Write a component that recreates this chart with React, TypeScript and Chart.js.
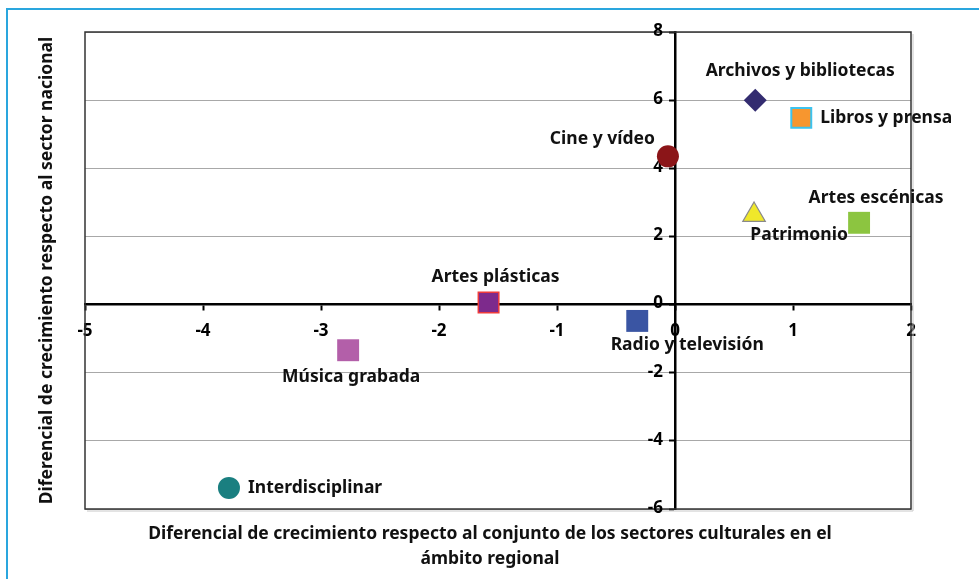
import React, { useEffect, useRef } from "react";
import { Chart, registerables } from "chart.js";

Chart.register(...registerables);

// ---- data ----
const categories = [
  "Archivos y bibliotecas",
  "Libros y prensa",
  "Cine y vídeo",
  "Patrimonio",
  "Artes escénicas",
  "Artes plásticas",
  "Radio y televisión",
  "Música grabada",
  "Interdisciplinar",
];
const xValues = [0.68, 1.07, -0.06, 0.67, 1.56, -1.58, -0.32, -2.77, -3.78];
const yValues = [6.0, 5.48, 4.35, 2.63, 2.4, 0.06, -0.48, -1.34, -5.38];
const xTickValues = [-5, -4, -3, -2, -1, 0, 1, 2];
const yTickValues = [-6, -4, -2, 0, 2, 4, 6, 8];
const xAxisTitle = [
  "Diferencial de crecimiento respecto al conjunto de los sectores culturales en el",
  "ámbito regional",
];
const yAxisTitle = "Diferencial de crecimiento respecto al sector nacional";

// ---- styles ----
const markerStyles = [
  { shape: "rectRot", r: 11.5, fill: "#332c70", stroke: "#332c70", bw: 0 },
  { shape: "rect", r: 14.1, fill: "#f7962f", stroke: "#3cc3ef", bw: 2 },
  { shape: "circle", r: 11, fill: "#8b1518", stroke: "#8b1518", bw: 0 },
  { shape: "triangle", r: 13, fill: "#f0e82a", stroke: "#8a8a8a", bw: 1.2 },
  { shape: "rect", r: 15.5, fill: "#8cc540", stroke: "#8cc540", bw: 0 },
  { shape: "rect", r: 14.5, fill: "#7d2a8c", stroke: "#ee3b3b", bw: 1.5 },
  { shape: "rect", r: 15.5, fill: "#3a55a3", stroke: "#3a55a3", bw: 0 },
  { shape: "rect", r: 15.5, fill: "#b35fa9", stroke: "#b35fa9", bw: 0 },
  { shape: "circle", r: 11, fill: "#1a7f80", stroke: "#1a7f80", bw: 0 },
];
const labelPlacement = [
  { dx: 45, dy: -29, align: "center" },
  { dx: 19, dy: 0, align: "left" },
  { dx: -13, dy: -17, align: "right" },
  { dx: 45, dy: 20, align: "center" },
  { dx: 17, dy: -25, align: "center" },
  { dx: 7, dy: -26, align: "center" },
  { dx: 50, dy: 24, align: "center" },
  { dx: 3, dy: 27, align: "center" },
  { dx: 19, dy: 0, align: "left" },
];
const FONT = "'Noto Sans', 'DejaVu Sans', sans-serif";
const TEXT = "#111111";
const LABEL_SIZE = 17.5;
const TICK_SIZE = 17;

const pointLabels = {
  id: "pointLabels",
  afterDatasetsDraw(chart: any) {
    const ctx = chart.ctx;
    ctx.save();
    ctx.font = `bold ${LABEL_SIZE}px ${FONT}`;
    ctx.fillStyle = TEXT;
    ctx.textBaseline = "middle";
    chart.data.datasets.forEach((ds: any, i: number) => {
      const meta = chart.getDatasetMeta(i);
      const el = meta.data[0];
      if (!el) return;
      const p = labelPlacement[i];
      ctx.textAlign = p.align;
      ctx.fillText(categories[i], el.x + p.dx, el.y + p.dy);
    });
    ctx.restore();
  },
};

const frameAndTitles = {
  id: "frameAndTitles",
  beforeDatasetsDraw(chart: any) {
    const { ctx, chartArea: a } = chart;
    ctx.save();
    ctx.strokeStyle = "#c8c8c8";
    ctx.lineWidth = 1;
    ctx.beginPath();
    ctx.moveTo(a.right + 2, a.top + 2);
    ctx.lineTo(a.right + 2, a.bottom + 2);
    ctx.lineTo(a.left + 2, a.bottom + 2);
    ctx.stroke();
    ctx.strokeStyle = "#333333";
    ctx.lineWidth = 1.5;
    ctx.strokeRect(a.left, a.top, a.right - a.left, a.bottom - a.top);
    // y tick labels, placed left of the zero-positioned axis
    const ys = chart.scales.y;
    const xs = chart.scales.x;
    const ax = xs.getPixelForValue(0);
    ctx.font = `bold ${TICK_SIZE}px ${FONT}`;
    ctx.fillStyle = "#000";
    ctx.textAlign = "right";
    ctx.textBaseline = "middle";
    ys.ticks.forEach((t: any) => {
      ctx.fillText(String(t.value), ax - 12, ys.getPixelForValue(t.value) - 1);
    });
    ctx.restore();
  },
  afterDraw(chart: any) {
    const { ctx, chartArea: a } = chart;
    ctx.save();
    ctx.font = `bold ${LABEL_SIZE}px ${FONT}`;
    ctx.fillStyle = TEXT;
    ctx.textAlign = "center";
    ctx.textBaseline = "middle";
    ctx.fillText(xAxisTitle[0], 490, 534);
    ctx.fillText(xAxisTitle[1], 490, 559);
    ctx.translate(47, (a.top + a.bottom) / 2);
    ctx.rotate(-Math.PI / 2);
    ctx.fillText(yAxisTitle, 0, 0);
    ctx.restore();
  },
};

export default function App() {
  const ref = useRef<HTMLCanvasElement>(null);
  useEffect(() => {
    if (!ref.current) return;
    const datasets = categories.map((c, i) => {
      const s = markerStyles[i];
      return {
        label: c,
        data: [{ x: xValues[i], y: yValues[i] }],
        pointStyle: s.shape,
        pointRadius: s.r,
        pointHoverRadius: s.r,
        backgroundColor: s.fill,
        borderColor: s.stroke,
        borderWidth: s.bw,
      };
    });
    const chart = new Chart(ref.current, {
      type: "scatter",
      data: { datasets },
      options: {
        responsive: false,
        animation: false,
        layout: { padding: { left: 85, right: 68, top: 32, bottom: 70 } },
        plugins: { legend: { display: false }, tooltip: { enabled: false } },
        scales: {
          x: {
            type: "linear",
            min: -5,
            max: 2,
            position: { y: 0 },
            afterBuildTicks: (s: any) => {
              s.ticks = xTickValues.map((v) => ({ value: v }));
            },
            ticks: {
              font: { family: FONT, size: TICK_SIZE, weight: "bold" },
              color: "#000",
              padding: 11,
            },
            grid: {
              drawOnChartArea: false,
              drawTicks: true,
              tickLength: 5,
              tickColor: "#000",
              tickWidth: 2,
            },
            border: { color: "#000", width: 2.5 },
          },
          y: {
            type: "linear",
            min: -6,
            max: 8,
            position: { x: 0 },
            afterBuildTicks: (s: any) => {
              s.ticks = yTickValues.map((v) => ({ value: v }));
            },
            ticks: { display: false },
            grid: {
              color: "#a8a8a8",
              lineWidth: 1,
              drawTicks: true,
              tickLength: 5,
              tickColor: "#000",
              tickWidth: 2,
            },
            border: { color: "#000", width: 2.5 },
          },
        },
      },
      plugins: [frameAndTitles, pointLabels],
    } as any);
    return () => chart.destroy();
  }, []);

  return (
    <div
      style={{
        position: "absolute",
        left: 0,
        top: 0,
        width: 979,
        height: 579,
        overflow: "hidden",
        background: "#fff",
      }}
    >
      <div
        style={{
          position: "absolute",
          left: 6,
          top: 8,
          width: 1000,
          height: 600,
          borderLeft: "2px solid #2aa6de",
          borderTop: "2px solid #2aa6de",
        }}
      />
      <canvas
        ref={ref}
        width={979}
        height={579}
        style={{ position: "absolute", left: 0, top: 0, display: "block" }}
      />
    </div>
  );
}
